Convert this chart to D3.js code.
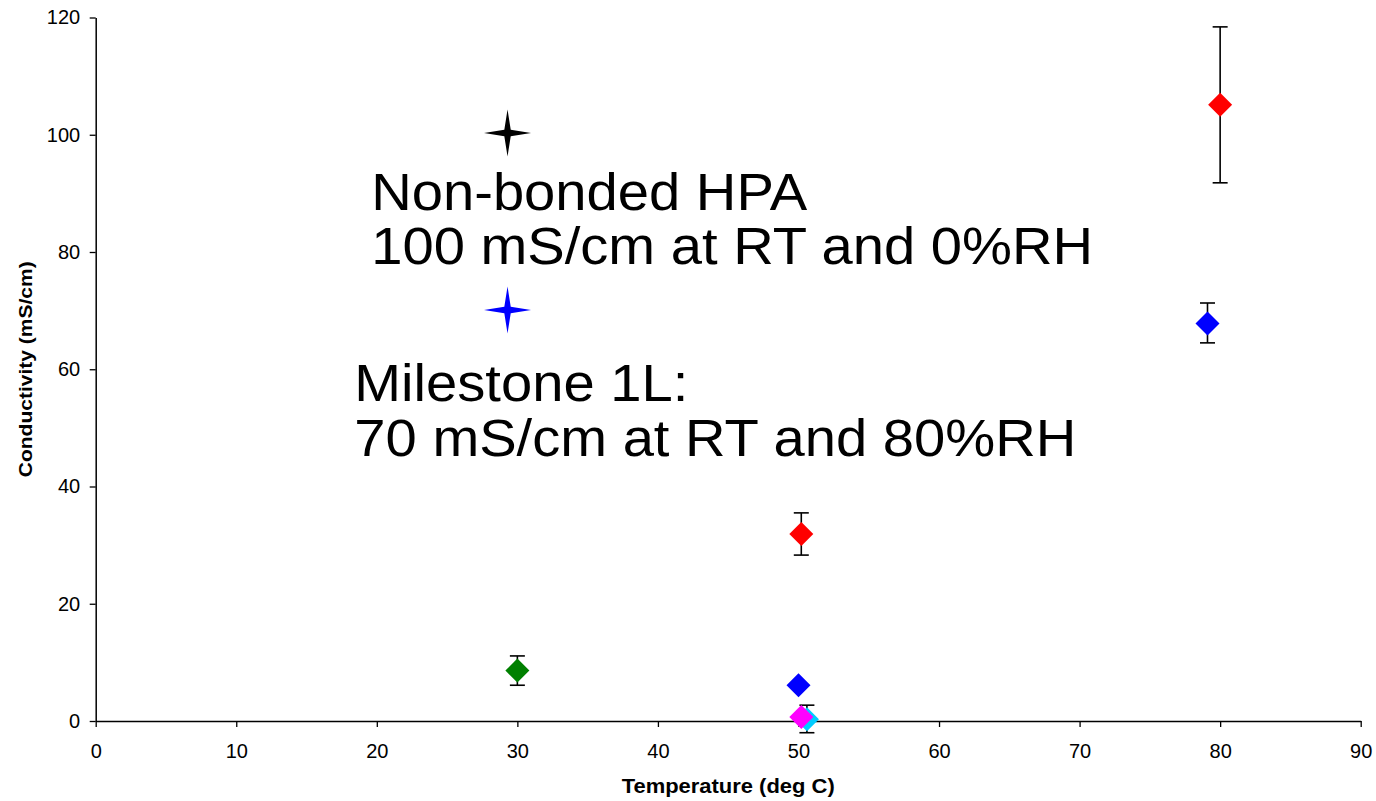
<!DOCTYPE html>
<html>
<head>
<meta charset="utf-8">
<script src="https://cdn.jsdelivr.net/npm/d3@7"></script>
<style>
  html, body { margin: 0; padding: 0; background: #fff; }
  svg { display: block; font-family: Arial, "Liberation Sans", sans-serif; }
</style>
</head>
<body>
<svg id="chart" width="1376" height="801"></svg>
<script>
// ---- Data ----
const seriesNames = ["cyan", "red", "blue", "green", "magenta"];
const seriesColors = ["#00CCFF", "#FF0000", "#0000FF", "#008000", "#FF00FF"];
const cyanX = [50.6];      const cyanY = [0.3];    const cyanErrLo = [2.3];  const cyanErrHi = [2.4];
const redX = [50.2, 80];   const redY = [31.9, 105.1]; const redErrLo = [3.6, 13.3]; const redErrHi = [3.6, 13.3];
const blueX = [50.0, 79.1]; const blueY = [6.1, 67.8];  const blueErrLo = [0, 3.3];  const blueErrHi = [0, 3.5];
const greenX = [30];       const greenY = [8.6];   const greenErrLo = [2.5]; const greenErrHi = [2.5];
const magentaX = [50.2];   const magentaY = [0.7]; const magentaErrLo = [0]; const magentaErrHi = [0];

const targetX = [29.3, 29.3];
const targetY = [100.3, 70.1];
const targetColors = ["#000000", "#0000FF"];

const annotations = [
  ["Non-bonded HPA", "100 mS/cm at RT and 0%RH"],
  ["Milestone 1L:", "70 mS/cm at RT and 80%RH"]
];
const annotationAnchorX = [19.6, 18.4];
const annotationAnchorY = [87.2, 54.5];

const xTicks = [0, 10, 20, 30, 40, 50, 60, 70, 80, 90];
const yTicks = [0, 20, 40, 60, 80, 100, 120];
const xTitle = "Temperature (deg C)";
const yTitle = "Conductivity (mS/cm)";

// ---- Layout ----
const svg = d3.select("#chart");
const mLeft = 95.7, mRight = 1360.7, mTop = 17.5, mBottom = 721;
const x = d3.scaleLinear().domain([0, 90]).range([mLeft, mRight]);
const y = d3.scaleLinear().domain([0, 120]).range([mBottom, mTop]);

// axes
const xAxis = d3.axisBottom(x).tickValues(xTicks).tickSize(6).tickPadding(16.5).tickSizeOuter(0);
const yAxis = d3.axisLeft(y).tickValues(yTicks).tickSize(6).tickPadding(9.5).tickSizeOuter(0);

const gx = svg.append("g").attr("transform", `translate(0,${mBottom})`).call(xAxis);
const gy = svg.append("g").attr("transform", `translate(${mLeft},0)`).call(yAxis);
[gx, gy].forEach(g => {
  g.select(".domain").attr("stroke", "#000").attr("stroke-width", 1.5);
  g.selectAll(".tick line").attr("stroke", "#000").attr("stroke-width", 1.3);
  g.selectAll(".tick text").attr("fill", "#000").attr("font-size", 20)
    .attr("font-family", "Arial, 'Liberation Sans', sans-serif");
});

// axis titles
svg.append("text")
  .attr("x", (mLeft + mRight) / 2).attr("y", 793)
  .attr("text-anchor", "middle").attr("font-size", 19.5).attr("font-weight", "bold")
  .attr("textLength", 213).attr("lengthAdjust", "spacingAndGlyphs")
  .text(xTitle);
svg.append("text")
  .attr("transform", `translate(32,${(mTop + mBottom) / 2}) rotate(-90)`)
  .attr("text-anchor", "middle").attr("font-size", 18.5).attr("font-weight", "bold")
  .attr("textLength", 216).attr("lengthAdjust", "spacingAndGlyphs")
  .text(yTitle);

// ---- Series with error bars ----
const seriesData = [
  [cyanX, cyanY, cyanErrLo, cyanErrHi],
  [redX, redY, redErrLo, redErrHi],
  [blueX, blueY, blueErrLo, blueErrHi],
  [greenX, greenY, greenErrLo, greenErrHi],
  [magentaX, magentaY, magentaErrLo, magentaErrHi]
];

const capHalf = 7.5;
const dHalf = 12;
const plot = svg.append("g");

seriesData.forEach((s, si) => {
  const [xs, ys, lo, hi] = s;
  const pts = xs.map((v, i) => ({x: v, y: ys[i], lo: lo[i], hi: hi[i]}));
  const g = plot.append("g").attr("class", "series-" + seriesNames[si]);
  pts.filter(p => p.lo > 0 || p.hi > 0).forEach(p => {
    const cx = x(p.x), y1 = y(p.y + p.hi), y0 = y(p.y - p.lo);
    g.append("line").attr("x1", cx).attr("x2", cx).attr("y1", y1).attr("y2", y0)
      .attr("stroke", "#000").attr("stroke-width", 1.6);
    [y1, y0].forEach(yy => g.append("line")
      .attr("x1", cx - capHalf).attr("x2", cx + capHalf).attr("y1", yy).attr("y2", yy)
      .attr("stroke", "#000").attr("stroke-width", 1.6));
  });
  g.selectAll("path.pt").data(pts).enter().append("path")
    .attr("class", "pt")
    .attr("d", p => {
      const cx = x(p.x), cy = y(p.y);
      return `M${cx},${cy - dHalf}L${cx + dHalf},${cy}L${cx},${cy + dHalf}L${cx - dHalf},${cy}Z`;
    })
    .attr("fill", seriesColors[si]);
});

// ---- Target stars ----
const starR = 23.5, starW = 3.2;
targetX.forEach((tx, i) => {
  const cx = x(tx), cy = y(targetY[i]);
  const d = `M${cx},${cy - starR}L${cx + starW},${cy - starW}L${cx + starR},${cy}L${cx + starW},${cy + starW}` +
            `L${cx},${cy + starR}L${cx - starW},${cy + starW}L${cx - starR},${cy}L${cx - starW},${cy - starW}Z`;
  svg.append("path").attr("d", d).attr("fill", targetColors[i]);
});

// ---- Annotations (text is slightly stretched horizontally in the original) ----
annotations.forEach((lines, i) => {
  const t = svg.append("text")
    .attr("transform", `translate(${x(annotationAnchorX[i])},${y(annotationAnchorY[i])}) scale(1.08,1)`)
    .attr("font-size", 52).attr("fill", "#000");
  lines.forEach((ln, j) => {
    t.append("tspan").attr("x", 0).attr("dy", j === 0 ? 0 : 54.5).text(ln);
  });
});
</script>
</body>
</html>
